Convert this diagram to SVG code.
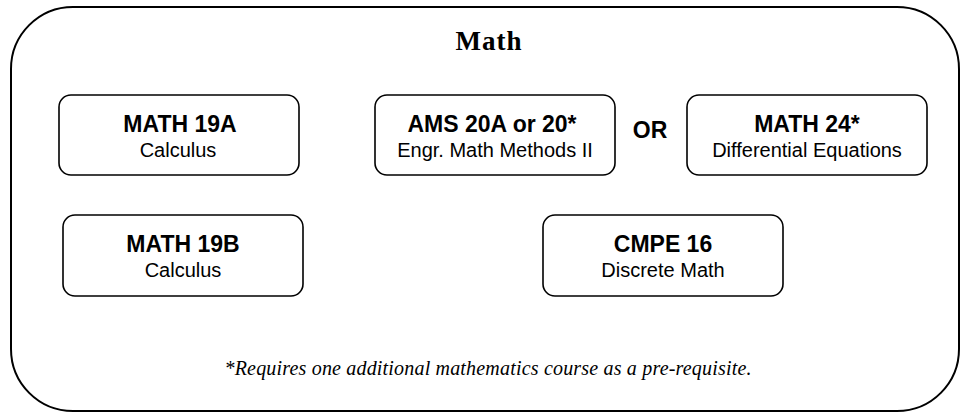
<svg xmlns="http://www.w3.org/2000/svg" width="961" height="415" viewBox="0 0 961 415">
<style>
.box{fill:#fff;stroke:#000;stroke-width:1.6}
.t1{font-family:"Liberation Sans",Arial,sans-serif;font-weight:bold;font-size:23px;text-anchor:middle;fill:#000}
.t2{font-family:"Liberation Sans",Arial,sans-serif;font-size:20px;text-anchor:middle;fill:#000}
</style>
<rect id="frame" x="11" y="7" width="948" height="404" rx="62" ry="62" fill="#fff" stroke="#000" stroke-width="2"/>
<text id="title" x="489" y="50" font-family="Liberation Serif,serif" font-weight="bold" font-size="27" letter-spacing="1" text-anchor="middle">Math</text>
<g id="math19a"><rect class="box" x="59" y="95" width="240" height="80" rx="12"/><text class="t1" x="180" y="132">MATH 19A</text><text class="t2" x="178" y="157">Calculus</text></g>
<g id="ams20"><rect class="box" x="375" y="95" width="240" height="80" rx="12"/><text class="t1" x="492" y="132">AMS 20A or 20*</text><text class="t2" x="495" y="157">Engr. Math Methods II</text></g>
<g id="or"><text class="t1" x="650" y="138" font-size="19">OR</text></g>
<g id="math24"><rect class="box" x="687" y="95" width="240" height="80" rx="12"/><text class="t1" x="807" y="132">MATH 24*</text><text class="t2" x="807" y="157">Differential Equations</text></g>
<g id="math19b"><rect class="box" x="63" y="215" width="240" height="81" rx="12"/><text class="t1" x="183" y="252">MATH 19B</text><text class="t2" x="183" y="277">Calculus</text></g>
<g id="cmpe16"><rect class="box" x="543" y="215" width="240" height="81" rx="12"/><text class="t1" x="663" y="252">CMPE 16</text><text class="t2" x="663" y="277">Discrete Math</text></g>
<g id="connectors"/>
<text id="footnote" x="488" y="375" font-family="Liberation Serif,serif" font-style="italic" font-size="20" text-anchor="middle" textLength="527" lengthAdjust="spacing">*Requires one additional mathematics course as a pre-requisite.</text>
</svg>
